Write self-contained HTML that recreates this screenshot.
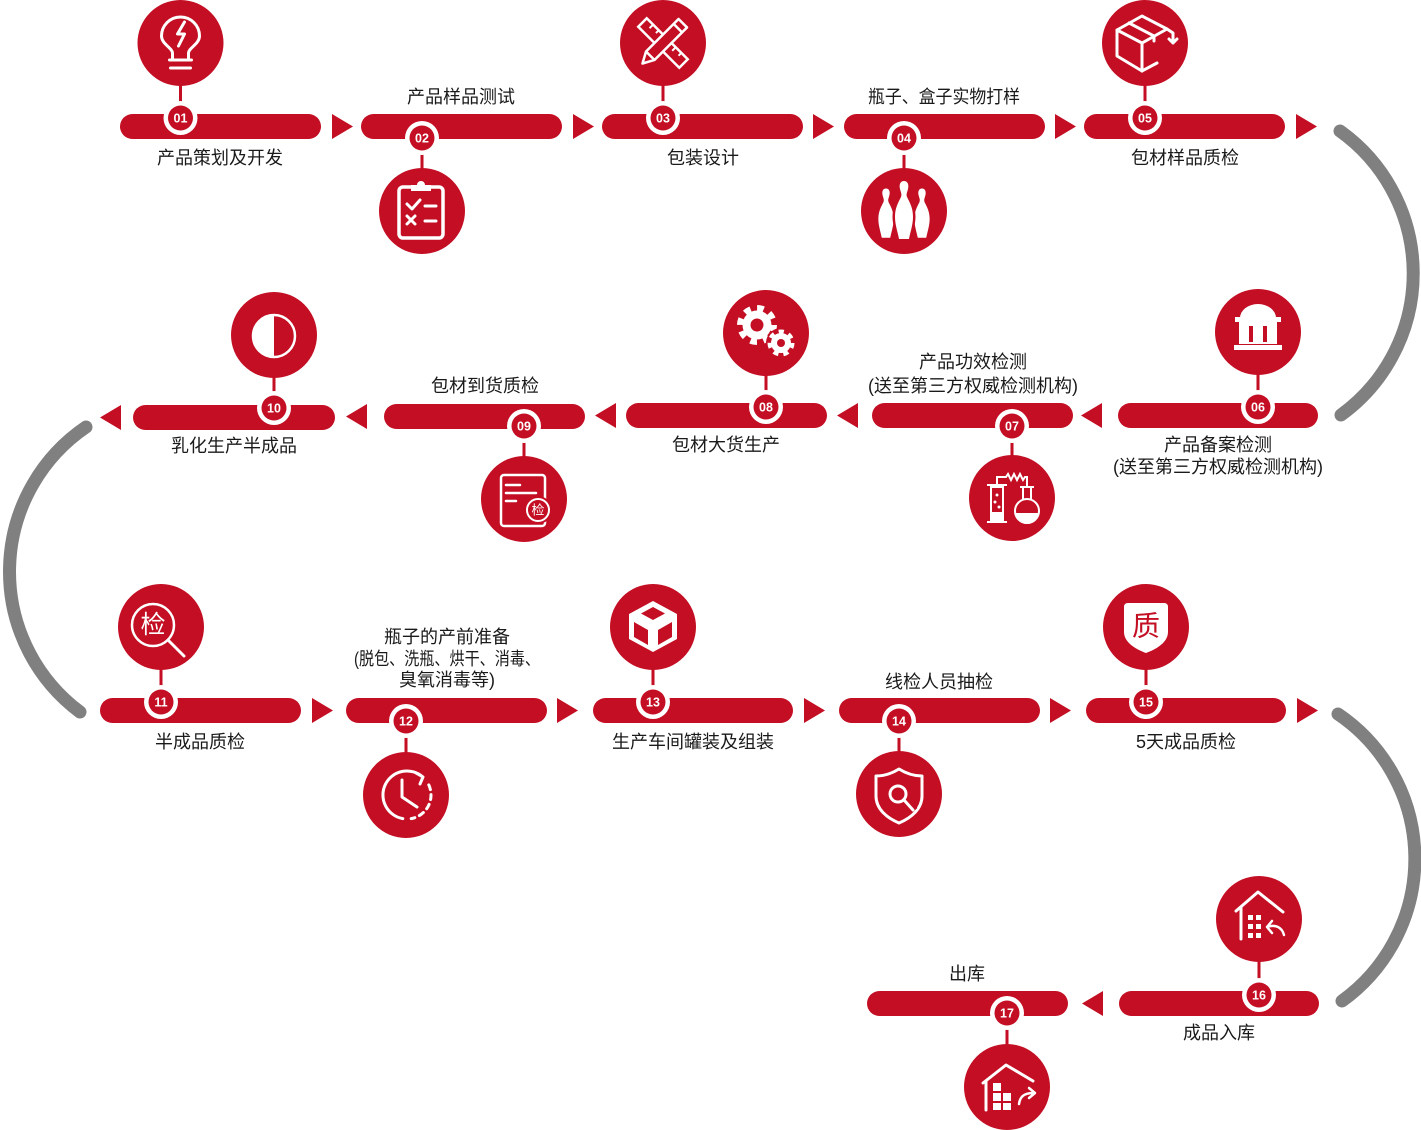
<!DOCTYPE html>
<html>
<head>
<meta charset="utf-8">
<style>
html,body{margin:0;padding:0;background:#fff;}
svg{display:block;}
.lbl{font-family:"Liberation Sans","Noto Sans CJK SC",sans-serif;font-size:18px;fill:#1a1a1a;text-anchor:middle;dominant-baseline:central;}
.num{font-family:"Liberation Sans",sans-serif;font-size:12.5px;font-weight:bold;fill:#fff;text-anchor:middle;}
.cjk{font-family:"Liberation Sans","Noto Sans CJK SC",sans-serif;text-anchor:middle;dominant-baseline:central;}
</style>
</head>
<body>
<svg width="1421" height="1130" viewBox="0 0 1421 1130" xmlns="http://www.w3.org/2000/svg">
<!-- gray arcs -->
<g fill="none" stroke="#808080" stroke-width="13" stroke-linecap="round">
  <path d="M 1340 131 A 175 175 0 0 1 1341 415"/>
  <path d="M 86 427 A 175 175 0 0 0 80 712"/>
  <path d="M 1338 714 A 175 175 0 0 1 1342 1001"/>
</g>

<g fill="#c30e23">
  <!-- bars row 1 -->
  <rect x="120" y="114" width="201" height="25" rx="12.5"/>
  <rect x="361" y="114" width="201" height="25" rx="12.5"/>
  <rect x="602" y="114" width="201" height="25" rx="12.5"/>
  <rect x="844" y="114" width="201" height="25" rx="12.5"/>
  <rect x="1084" y="114" width="201" height="25" rx="12.5"/>
  <!-- row 2 -->
  <rect x="1118" y="403" width="200" height="25" rx="12.5"/>
  <rect x="872" y="403" width="201" height="25" rx="12.5"/>
  <rect x="626" y="403" width="201" height="25" rx="12.5"/>
  <rect x="384" y="404" width="201" height="25" rx="12.5"/>
  <rect x="133" y="405" width="202" height="25" rx="12.5"/>
  <!-- row 3 -->
  <rect x="100" y="698" width="201" height="25" rx="12.5"/>
  <rect x="346" y="698" width="201" height="25" rx="12.5"/>
  <rect x="593" y="698" width="200" height="25" rx="12.5"/>
  <rect x="839" y="698" width="201" height="25" rx="12.5"/>
  <rect x="1086" y="698" width="200" height="25" rx="12.5"/>
  <!-- row 4 -->
  <rect x="1119" y="991" width="200" height="25" rx="12.5"/>
  <rect x="867" y="991" width="201" height="25" rx="12.5"/>

  <!-- arrows -->
  <polygon points="332,114 332,139 353,126.5"/>
  <polygon points="573,114 573,139 594,126.5"/>
  <polygon points="813,114 813,139 834,126.5"/>
  <polygon points="1055,114 1055,139 1076,126.5"/>
  <polygon points="1296,114 1296,139 1317,126.5"/>

  <polygon points="1081,415.5 1102,403 1102,428"/>
  <polygon points="837,415.5 858,403 858,428"/>
  <polygon points="595,415.5 616,403 616,428"/>
  <polygon points="346,416.5 367,404 367,429"/>
  <polygon points="100,417.5 121,405 121,430"/>

  <polygon points="312,698 312,723 333,710.5"/>
  <polygon points="557,698 557,723 578,710.5"/>
  <polygon points="804,698 804,723 825,710.5"/>
  <polygon points="1050,698 1050,723 1071,710.5"/>
  <polygon points="1297,698 1297,723 1318,710.5"/>

  <polygon points="1082,1003.5 1103,991 1103,1016"/>
</g>

<!-- stems -->
<g stroke="#c30e23" stroke-width="3">
  <line x1="180.5" y1="80" x2="180.5" y2="118"/>
  <line x1="422" y1="138" x2="422" y2="172"/>
  <line x1="663" y1="80" x2="663" y2="118"/>
  <line x1="904" y1="138" x2="904" y2="172"/>
  <line x1="1145" y1="80" x2="1145" y2="118"/>
  <line x1="1258" y1="370" x2="1258" y2="407"/>
  <line x1="1012" y1="426" x2="1012" y2="460"/>
  <line x1="766" y1="370" x2="766" y2="407"/>
  <line x1="524" y1="426" x2="524" y2="460"/>
  <line x1="274" y1="372" x2="274" y2="408"/>
  <line x1="161" y1="665" x2="161" y2="702"/>
  <line x1="406" y1="721" x2="406" y2="756"/>
  <line x1="653" y1="665" x2="653" y2="702"/>
  <line x1="899" y1="721" x2="899" y2="755"/>
  <line x1="1146" y1="665" x2="1146" y2="702"/>
  <line x1="1259" y1="957" x2="1259" y2="995"/>
  <line x1="1007" y1="1013" x2="1007" y2="1048"/>
</g>

<!-- badges -->
<g>
  <g transform="translate(180.5,118)"><circle r="17" fill="#fff"/><circle r="12.5" fill="#c30e23"/><text class="num" y="4.5">01</text></g>
  <g transform="translate(422,138)"><circle r="17" fill="#fff"/><circle r="12.5" fill="#c30e23"/><text class="num" y="4.5">02</text></g>
  <g transform="translate(663,118)"><circle r="17" fill="#fff"/><circle r="12.5" fill="#c30e23"/><text class="num" y="4.5">03</text></g>
  <g transform="translate(904,138)"><circle r="17" fill="#fff"/><circle r="12.5" fill="#c30e23"/><text class="num" y="4.5">04</text></g>
  <g transform="translate(1145,118)"><circle r="17" fill="#fff"/><circle r="12.5" fill="#c30e23"/><text class="num" y="4.5">05</text></g>
  <g transform="translate(1258,407)"><circle r="17" fill="#fff"/><circle r="12.5" fill="#c30e23"/><text class="num" y="4.5">06</text></g>
  <g transform="translate(1012,426)"><circle r="17" fill="#fff"/><circle r="12.5" fill="#c30e23"/><text class="num" y="4.5">07</text></g>
  <g transform="translate(766,407)"><circle r="17" fill="#fff"/><circle r="12.5" fill="#c30e23"/><text class="num" y="4.5">08</text></g>
  <g transform="translate(524,426)"><circle r="17" fill="#fff"/><circle r="12.5" fill="#c30e23"/><text class="num" y="4.5">09</text></g>
  <g transform="translate(274,408)"><circle r="17" fill="#fff"/><circle r="12.5" fill="#c30e23"/><text class="num" y="4.5">10</text></g>
  <g transform="translate(161,702)"><circle r="17" fill="#fff"/><circle r="12.5" fill="#c30e23"/><text class="num" y="4.5">11</text></g>
  <g transform="translate(406,721)"><circle r="17" fill="#fff"/><circle r="12.5" fill="#c30e23"/><text class="num" y="4.5">12</text></g>
  <g transform="translate(653,702)"><circle r="17" fill="#fff"/><circle r="12.5" fill="#c30e23"/><text class="num" y="4.5">13</text></g>
  <g transform="translate(899,721)"><circle r="17" fill="#fff"/><circle r="12.5" fill="#c30e23"/><text class="num" y="4.5">14</text></g>
  <g transform="translate(1146,702)"><circle r="17" fill="#fff"/><circle r="12.5" fill="#c30e23"/><text class="num" y="4.5">15</text></g>
  <g transform="translate(1259,995)"><circle r="17" fill="#fff"/><circle r="12.5" fill="#c30e23"/><text class="num" y="4.5">16</text></g>
  <g transform="translate(1007,1013)"><circle r="17" fill="#fff"/><circle r="12.5" fill="#c30e23"/><text class="num" y="4.5">17</text></g>
</g>

<!-- icons -->
<!-- 01 bulb -->
<g transform="translate(180.5,43)">
  <circle r="43" fill="#c30e23"/>
  <g fill="none" stroke="#fff" stroke-width="3" stroke-linecap="round" stroke-linejoin="round">
    <path d="M -8 17 L -8 10 C -8 5 -19 1 -19 -7 A 19 19 0 0 1 19 -7 C 19 1 8 5 8 10 L 8 17"/>
    <path d="M -11 17 H 11 M -10 25 H 10"/>
    <path d="M 4 -21 L -3 -9 L 4 -9 L -2 3"/>
  </g>
</g>
<!-- 02 clipboard -->
<g transform="translate(421,211)">
  <circle cx="1" r="43" fill="#c30e23"/>
  <g fill="none" stroke="#fff" stroke-width="3" stroke-linecap="round" stroke-linejoin="round">
    <rect x="-22" y="-24" width="44" height="51" rx="4" stroke-width="3.5"/>
    <polyline points="-14,-7 -9,-2 -1,-11"/>
    <line x1="4" y1="-5" x2="15" y2="-5"/>
    <path d="M -14 5 L -6 13 M -6 5 L -14 13"/>
    <line x1="4" y1="10" x2="15" y2="10"/>
  </g>
  <path d="M -10 -20 L -10 -26 L -4 -26 A 4 4 0 0 1 4 -26 L 10 -26 L 10 -20 Z" fill="#fff"/>
</g>
<!-- 03 pencil & ruler -->
<g transform="translate(663,43)">
  <circle r="43" fill="#c30e23"/>
  <g transform="rotate(45)" fill="none" stroke="#fff" stroke-width="2.5">
    <rect x="-29" y="-6" width="58" height="12"/>
    <path d="M -20 -6 V -1 M -12 -6 V -2 M -4 -6 V -1 M 4 -6 V -2 M 12 -6 V -1 M 20 -6 V -2" stroke-width="2"/>
  </g>
  <g transform="rotate(-45)" stroke="#fff" stroke-width="2.5" stroke-linejoin="round">
    <path d="M -29 0 L -18 -6 L 28 -6 L 28 6 L -18 6 Z" fill="#c30e23"/>
    <path d="M -18 -6 L -18 6 M 21 -6 L 21 6" fill="none"/>
  </g>
</g>
<!-- 04 bowling pins -->
<g transform="translate(904,211)">
  <circle r="43" fill="#c30e23"/>
  <defs>
    <path id="pin" d="M 0 -30 C 4 -30 5 -26 4 -22 C 3 -18 2 -17 3 -14 C 6 -8 9 -3 9 6 C 9 14 6 22 5 28 L -5 28 C -6 22 -9 14 -9 6 C -9 -3 -6 -8 -3 -14 C -2 -17 -3 -18 -4 -22 C -5 -26 -4 -30 0 -30 Z"/>
  </defs>
  <use href="#pin" transform="translate(-18,3) scale(0.85)" fill="#fff"/>
  <use href="#pin" transform="translate(18,3) scale(0.85)" fill="#fff"/>
  <use href="#pin" fill="#fff" stroke="#c30e23" stroke-width="5" paint-order="stroke"/>
</g>
<!-- 05 box -->
<g transform="translate(1145,43)">
  <circle r="43" fill="#c30e23"/>
  <g fill="none" stroke="#fff" stroke-width="3" stroke-linejoin="round" stroke-linecap="round">
    <path d="M -28 -13 L -3 -27 L 22 -14 L -3 0 Z"/>
    <path d="M -28 -13 L -28 13 L -3 28 L -3 0"/>
    <path d="M -3 28 L 12 20"/>
    <path d="M -16 -20 L 9 -7 L 9 -2"/>
    <path d="M 22 -14 L 28 -10 L 28 0 M 24 -4 L 28 0 L 32 -4"/>
  </g>
</g>
<!-- 06 building -->
<g transform="translate(1258,332)">
  <circle r="43" fill="#c30e23"/>
  <g fill="#fff">
    <path d="M -18 -14 A 18 14 0 0 1 18 -14 Z"/>
    <rect x="-23" y="-15" width="46" height="5"/>
    <rect x="-19" y="-10" width="38" height="22"/>
    <rect x="-24" y="13" width="48" height="5"/>
  </g>
  <g fill="#c30e23">
    <rect x="-9" y="-6" width="4" height="16"/>
    <rect x="5" y="-6" width="4" height="16"/>
  </g>
</g>
<!-- 07 lab -->
<g transform="translate(1012,498)">
  <circle r="43" fill="#c30e23"/>
  <g stroke="#fff" stroke-width="2" fill="none">
    <rect x="-21" y="-11" width="12" height="35"/>
    <line x1="-25" y1="-13" x2="-5" y2="-13"/>
    <line x1="-25" y1="24" x2="-5" y2="24"/>
    <circle cx="15" cy="13" r="12"/>
    <path d="M 11 2 L 11 -10 M 19 2 L 19 -10"/>
    <line x1="8" y1="-11" x2="22" y2="-11"/>
    <path d="M -15 -13 L -15 -21 L -6 -21 L -4 -24 L -1 -18 L 2 -24 L 5 -18 L 8 -24 L 11 -18 L 13 -21 L 15 -21 L 15 -11"/>
  </g>
  <path d="M 4 15 A 11 11 0 0 0 26 15 Z" fill="#fff"/>
  <g fill="#fff">
    <rect x="-21" y="14" width="12" height="10"/>
    <circle cx="-15" cy="-3" r="1.5"/>
    <circle cx="-17" cy="4" r="1.5"/>
    <circle cx="-13" cy="9" r="1.5"/>
  </g>
</g>
<!-- 08 gears -->
<g transform="translate(766,333)">
  <circle r="43" fill="#c30e23"/>
  <g transform="translate(-9,-8)">
    <circle r="17" fill="none" stroke="#fff" stroke-width="6" stroke-dasharray="6.7 6.65"/>
    <circle r="14.5" fill="#fff"/>
    <circle r="6.5" fill="#c30e23"/>
  </g>
  <g transform="translate(15,10)">
    <circle r="15" fill="#c30e23"/>
    <circle r="11.5" fill="none" stroke="#fff" stroke-width="4" stroke-dasharray="5.2 5.1"/>
    <circle r="10" fill="#fff"/>
    <circle r="4" fill="#c30e23"/>
  </g>
</g>
<!-- 09 doc -->
<g transform="translate(524,499)">
  <circle r="43" fill="#c30e23"/>
  <g fill="none" stroke="#fff" stroke-width="2.5" stroke-linecap="round">
    <rect x="-23" y="-24" width="44" height="51" rx="3"/>
    <path d="M -18 -14 H -4 M -18 -6 H 12 M -18 2 H -8"/>
  </g>
  <circle cx="14" cy="11" r="14" fill="#c30e23"/>
  <circle cx="14" cy="11" r="11" fill="none" stroke="#fff" stroke-width="2"/>
  <text class="cjk" x="14" y="11" font-size="13" fill="#fff">检</text>
</g>
<!-- 10 half circle -->
<g transform="translate(274,335)">
  <circle r="43" fill="#c30e23"/>
  <circle cy="1" r="21" fill="none" stroke="#fff" stroke-width="2.5"/>
  <path d="M 0 -20 A 21 21 0 0 0 0 22 Z" fill="#fff"/>
</g>
<!-- 11 magnifier -->
<g transform="translate(161,627)">
  <circle r="43" fill="#c30e23"/>
  <circle cx="-8" cy="-2" r="21" fill="none" stroke="#fff" stroke-width="2.5"/>
  <text class="cjk" x="-8" y="-2" font-size="25" fill="#fff">检</text>
  <line x1="7" y1="13" x2="23" y2="29" stroke="#fff" stroke-width="3" stroke-linecap="round"/>
</g>
<!-- 12 clock -->
<g transform="translate(406,795)">
  <circle r="43" fill="#c30e23"/>
  <g fill="none" stroke="#fff" stroke-width="3" stroke-linecap="round" stroke-linejoin="round">
    <path d="M 16.4 -18.4 A 24 24 0 1 0 -3.2 23.6"/>
    <path d="M 22.8 -10.1 A 24 24 0 0 1 5.2 23.6" stroke-dasharray="5 5"/>
    <path d="M 10 -22 L 17 -18 L 14 -11"/>
    <polyline points="-4,-15 -4,2 11,12"/>
  </g>
</g>
<!-- 13 cube -->
<g transform="translate(653,627)">
  <circle r="43" fill="#c30e23"/>
  <polygon points="0,-26 24,-13 24,12 0,25 -24,12 -24,-13" fill="#fff"/>
  <g fill="#c30e23">
    <polygon points="0,-20 12,-13.5 0,-7 -12,-13.5"/>
    <polygon points="-19,-5 -5,3 -5,18 -19,10"/>
    <polygon points="5,3 19,-5 19,10 5,18"/>
  </g>
</g>
<!-- 14 shield search -->
<g transform="translate(899,794)">
  <circle r="43" fill="#c30e23"/>
  <path d="M 0 -25 C -8 -20 -15 -18 -23 -18 L -23 2 C -23 15 -12 24 0 29 C 12 24 23 15 23 2 L 23 -18 C 15 -18 8 -20 0 -25 Z" fill="none" stroke="#fff" stroke-width="3" stroke-linejoin="round"/>
  <line x1="5" y1="6" x2="15" y2="17" stroke="#c30e23" stroke-width="9"/>
  <circle cx="-1" cy="0" r="8" fill="none" stroke="#fff" stroke-width="3"/>
  <line x1="5" y1="6" x2="14" y2="16" stroke="#fff" stroke-width="3" stroke-linecap="round"/>
</g>
<!-- 15 shield 质 -->
<g transform="translate(1146,627)">
  <circle r="43" fill="#c30e23"/>
  <path d="M -22 -20 Q -22 -24 -18 -24 L 18 -24 Q 22 -24 22 -20 L 22 5 C 22 15 11 22 0 26 C -11 22 -22 15 -22 5 Z" fill="#fff"/>
  <text class="cjk" x="0" y="-1" font-size="28" fill="#c30e23">质</text>
</g>
<!-- 16 house return -->
<g transform="translate(1259,919)">
  <circle r="43" fill="#c30e23"/>
  <g fill="none" stroke="#fff" stroke-width="3" stroke-linecap="round" stroke-linejoin="round">
    <polyline points="-23,-8 -1,-27 24,-7"/>
    <line x1="-18" y1="-11" x2="-18" y2="20"/>
    <path d="M 13 2 L 8 8 L 13 14 M 8 8 C 16 5 23 8 25 16" stroke-width="2.5"/>
  </g>
  <g fill="#fff">
    <rect x="-11" y="-4" width="5" height="5"/>
    <rect x="-3" y="-4" width="5" height="5"/>
    <rect x="-11" y="5" width="5" height="5"/>
    <rect x="-3" y="5" width="5" height="5"/>
    <rect x="-11" y="14" width="5" height="5"/>
    <rect x="-3" y="14" width="5" height="5"/>
  </g>
</g>
<!-- 17 house out -->
<g transform="translate(1007,1087)">
  <circle r="43" fill="#c30e23"/>
  <g fill="none" stroke="#fff" stroke-width="3" stroke-linecap="round" stroke-linejoin="round">
    <polyline points="-24,-4 -1,-22 26,-6"/>
    <line x1="-21" y1="-5" x2="-21" y2="23"/>
    <path d="M 12 17 C 13 9 18 6 26 6 M 22 1 L 28 6 L 22 11" stroke-width="2.5"/>
  </g>
  <g fill="#fff">
    <rect x="-14" y="-4" width="8" height="8"/>
    <rect x="-14" y="6" width="8" height="8"/>
    <rect x="-14" y="16" width="8" height="7"/>
    <rect x="-4" y="6" width="8" height="8"/>
    <rect x="-4" y="16" width="8" height="7"/>
  </g>
</g>

<!-- labels -->
<text class="lbl" x="220" y="158">产品策划及开发</text>
<text class="lbl" x="461" y="97">产品样品测试</text>
<text class="lbl" x="703" y="158">包装设计</text>
<text class="lbl" x="944" y="97" textLength="152" lengthAdjust="spacingAndGlyphs">瓶子、盒子实物打样</text>
<text class="lbl" x="1185" y="158">包材样品质检</text>

<text class="lbl" x="1218" y="445">产品备案检测</text>
<text class="lbl" x="1218" y="467">(送至第三方权威检测机构)</text>
<text class="lbl" x="973" y="362">产品功效检测</text>
<text class="lbl" x="973" y="386">(送至第三方权威检测机构)</text>
<text class="lbl" x="726" y="445">包材大货生产</text>
<text class="lbl" x="485" y="386">包材到货质检</text>
<text class="lbl" x="234" y="446">乳化生产半成品</text>

<text class="lbl" x="200" y="742">半成品质检</text>
<text class="lbl" x="447" y="637">瓶子的产前准备</text>
<text class="lbl" x="447" y="659" textLength="186" lengthAdjust="spacingAndGlyphs">(脱包、洗瓶、烘干、消毒、</text>
<text class="lbl" x="447" y="680">臭氧消毒等)</text>
<text class="lbl" x="693" y="742">生产车间罐装及组装</text>
<text class="lbl" x="939" y="682">线检人员抽检</text>
<text class="lbl" x="1186" y="742">5天成品质检</text>

<text class="lbl" x="1219" y="1033">成品入库</text>
<text class="lbl" x="967" y="974">出库</text>
</svg>
</body>
</html>
